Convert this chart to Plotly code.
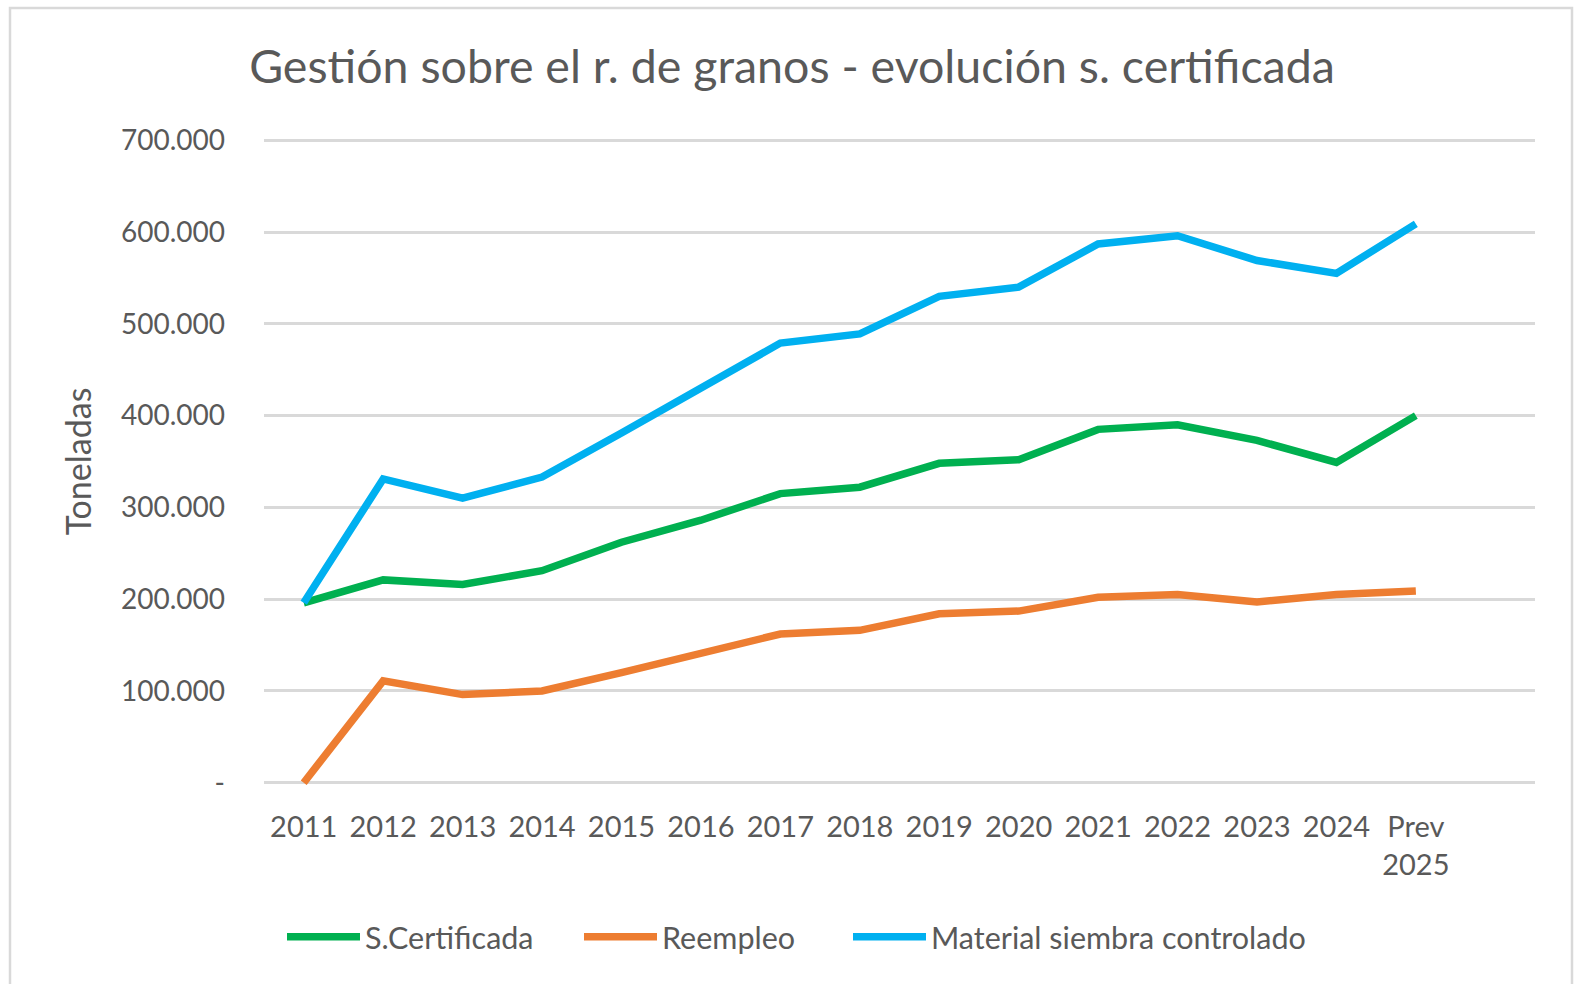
import plotly.graph_objects as go

categories = ["2011", "2012", "2013", "2014", "2015", "2016", "2017", "2018",
              "2019", "2020", "2021", "2022", "2023", "2024", "Prev<br>2025"]
s_certificada = [196000, 221000, 216000, 231000, 262000, 286000, 315000, 322000,
                 348000, 352000, 385000, 390000, 373000, 349000, 400000]
reempleo = [0, 111000, 96000, 100000, 120000, 140000, 162000, 166000,
            184000, 187000, 202000, 205000, 197000, 205000, 209000]
material_controlado = [196000, 331000, 310000, 333000, 381000, 429000, 479000, 489000,
                       530000, 540000, 587000, 596000, 569000, 555000, 609000]

y_tickvals = [0, 100000, 200000, 300000, 400000, 500000, 600000, 700000]
y_ticktext = ["-", "100.000", "200.000", "300.000", "400.000", "500.000", "600.000", "700.000"]

series_names = ["S.Certificada", "Reempleo", "Material siembra controlado"]
series_colors = ["#00B050", "#ED7D31", "#00B0F0"]
legend_widths = [209, 181, 400]

W, H = 1578, 984
Y_LO, Y_HI = -2500, 702500
ML, MR = 264, 43
# plot area: value 0 at y=783 px, 700000 at y=140 px
px_per_val = (783 - 140) / 700000
MT = int(round(140 - (Y_HI - 700000) * px_per_val))
MB = int(round(H - (783 + (0 - Y_LO) * px_per_val)))
FONT = "Lato"
TXT = "#595959"

fig = go.Figure()
for name, vals, col, lw in zip(series_names, [s_certificada, reempleo, material_controlado],
                               series_colors, legend_widths):
    fig.add_trace(go.Scatter(x=categories, y=vals, name=name, mode="lines",
                             line=dict(color=col, width=7.5), legendwidth=lw))

pw = W - ML - MR
ph = H - MT - MB
def px2paper_x(px):
    return (px - ML) / pw
def px2paper_y(py):
    return (H - MB - py) / ph

fig.add_shape(type="rect", xref="paper", yref="paper",
              x0=px2paper_x(10), x1=px2paper_x(1572),
              y0=px2paper_y(995), y1=px2paper_y(8),
              line=dict(color="#D9D9D9", width=2.5), fillcolor="rgba(0,0,0,0)",
              layer="below")

fig.update_layout(
    width=W, height=H,
    margin=dict(l=ML, r=MR, t=MT, b=MB),
    paper_bgcolor="white", plot_bgcolor="white",
    separators=",.",
    font=dict(family=FONT, color=TXT, size=28),
    title=dict(text="Gestión sobre el r. de granos - evolución s. certificada",
               x=792 / W, xref="container", xanchor="center",
               y=1 - 67 / H, yref="container", yanchor="middle",
               font=dict(family=FONT, size=46.5, color=TXT)),
    showlegend=True,
    legend=dict(orientation="h", xref="container", x=282 / W, xanchor="left",
                yref="container", y=1 - 937 / H, yanchor="middle",
                itemwidth=73, font=dict(family=FONT, size=30.5, color=TXT),
                bgcolor="rgba(0,0,0,0)", traceorder="normal"),
    hovermode=False,
)

fig.update_xaxes(type="category", categoryorder="array", categoryarray=categories,
                 range=[-0.5, 15.5], showgrid=False, showline=False, zeroline=False,
                 ticks="", ticklabelstandoff=22,
                 tickfont=dict(family=FONT, size=29, color=TXT))
fig.update_yaxes(range=[Y_LO, Y_HI], tickvals=y_tickvals, ticktext=y_ticktext,
                 showgrid=True, gridcolor="#D9D9D9", gridwidth=2.5,
                 zeroline=False, showline=False, ticks="", ticklabelstandoff=38,
                 tickfont=dict(family=FONT, size=28, color=TXT),
                 title=dict(text="Toneladas", standoff=19,
                            font=dict(family=FONT, size=34, color=TXT)))

fig.write_html("out.html", config={"displayModeBar": False},
               post_script="document.body.style.margin='0';")
